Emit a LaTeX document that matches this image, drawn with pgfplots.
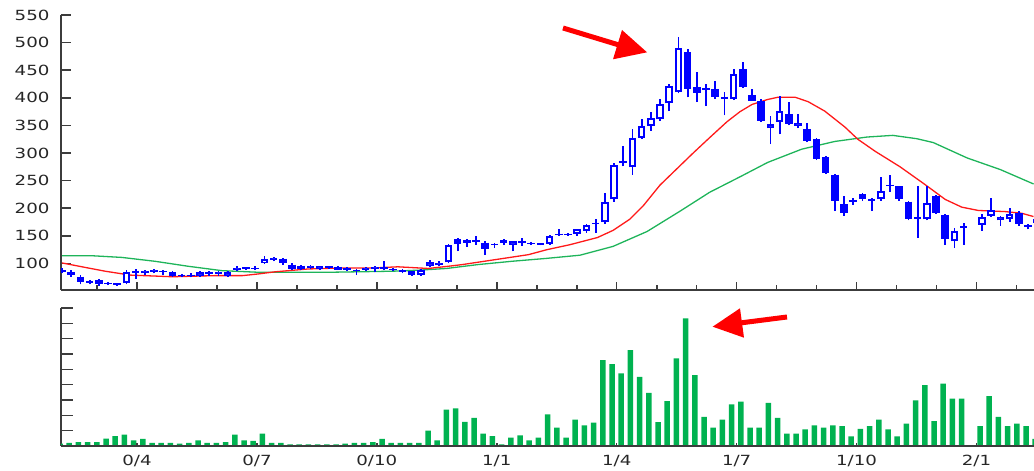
\documentclass[border=0pt]{standalone}
\usepackage{pgfplots}
\usepackage{pgfplotstable}
\pgfplotsset{compat=1.18}
\usepackage{fontspec}
\setmainfont{DejaVu Sans}[FakeStretch=1.3]
\definecolor{cblue}{RGB}{0,0,255}
\definecolor{mared}{RGB}{255,25,25}
\definecolor{magreen}{RGB}{30,180,90}
\definecolor{volgreen}{RGB}{0,178,80}
\definecolor{axgray}{RGB}{60,60,60}

\pgfplotstableread{
i o h l c
7 64 88 62 84
9 82 88 80 86
10 85 90 82 88
15 78 86 76 84
17 81 86 78 84
18 78 86 76 84
19 89 95 86 92
22 101 113 99 109
23 106 112 104 110
27 92 97 90 95
28 90 96 88 95
33 89 94 87 92
34 90 95 84 93
39 79 90 77 89
40 95 106 93 102
41 97 105 95 101
42 102 135 100 134
49 134 141 122 140
53 136 151 134 150
56 153 163 150 162
57 159 171 156 169
59 175 228 172 211
60 216 282 212 278
62 274 343 261 328
63 328 361 326 349
64 349 374 340 364
65 361 398 358 388
66 390 425 376 421
67 410 511 408 491
73 398 452 396 443
77 345 367 316 352
78 356 404 334 376
80 349 370 345 354
89 216 257 214 231
94 180 240 178 210
97 140 165 128 159
100 170 189 159 184
101 186 219 184 197
102 178 186 168 185
103 180 201 176 190
106 174 182 172 180
}\updata

\pgfplotstableread{
i o h l c
0 88 92 82 85
1 85 88 76 79
2 76 80 62 66
3 68 70 62 65
4 70 72 60 63
5 64 66 61 62
6 64 65 60 61
8 87 90 72 82
11 86 88 80 84
12 84 86 76 78
13 80 81 76 77
14 80 82 75 77
16 84 86 78 81
20 93 94 88 90
21 92 95 88 90
24 109 110 97 100
25 98 100 88 90
26 96 98 88 90
29 95 96 90 92
30 94 96 88 89
31 92 93 87 89
32 89 90 80 86
35 93 104 88 90
36 90 92 86 88
37 88 90 82 84
38 86 87 78 80
43 144 146 122 135
44 142 144 130 137
45 142 150 134 139
46 138 140 116 126
47 136 137 128 133
48 142 144 134 138
50 141 146 132 138
51 137 139 134 135
52 137 138 133 134
54 154 162 150 151
55 154 155 150 151
58 174 180 156 171
61 286 313 276 282
68 483 488 401 416
69 419 446 392 408
70 418 425 385 414
71 416 431 398 401
72 402 410 368 398
74 452 465 418 419
75 405 416 394 395
76 394 397 356 358
79 370 392 350 352
81 343 355 320 322
82 325 327 287 289
83 292 294 262 264
84 261 262 195 213
85 207 222 186 191
86 215 218 206 212
87 225 228 214 217
88 217 218 195 213
90 243 261 230 240
91 240 241 214 216
92 212 213 178 180
93 185 240 147 181
95 223 224 190 192
96 188 189 134 144
98 168 174 134 164
104 191 195 168 172
105 169 172 162 166
}\downdata

\pgfplotstableread{
i v
0 101
2.8 92
4.7 86
7.4 79
12 76
16.6 78
19.6 78
21.3 81
23.2 85
26.7 90
30.4 92
34 92
36.5 94
39.8 91
42 95
43.5 98
47.1 107
50.7 116
52.7 125
55.2 134
58.2 147
59.9 160
61.7 180
63.2 205
65 242
66.8 271
68.6 300
70.4 328
72.3 357
73.7 375
75 388
76.7 397
77.8 401
79.7 401
81.1 393
82.9 376
85.1 347
86.5 325
88.4 303
91.1 275
93.8 243
96 216
97.8 202
99.6 196
102.5 194
104.3 191
105.6 185
}\redma

\pgfplotstableread{
i v
0 114
3.3 114
6.5 111
10.1 104
13.7 95
17.4 87
21.5 84
28.6 84
35.9 86
38.9 88
41.8 91
45.2 98
48.9 104
52.5 109
56.3 115
59.9 131
63.6 158
67.2 195
70.4 229
73.7 257
76.7 283
80.4 307
84 321
87.5 329
90.3 332
92.9 326
94.7 319
98.4 291
102 270
105.6 244
}\greenma

\pgfplotstableread{
i v
0 0.15
1 0.2
2 0.26
3 0.26
4 0.26
5 0.48
6 0.65
7 0.74
8 0.37
9 0.46
10 0.2
11 0.2
12 0.2
13 0.15
14 0.2
15 0.37
16 0.2
17 0.2
18 0.26
19 0.74
20 0.37
21 0.33
22 0.81
23 0.2
24 0.2
25 0.11
26 0.11
27 0.11
28 0.11
29 0.11
30 0.11
31 0.15
32 0.2
33 0.2
34 0.26
35 0.46
36 0.2
37 0.2
38 0.2
39 0.2
40 1.0
41 0.37
42 2.37
43 2.46
44 1.57
45 1.83
46 0.81
47 0.65
48 0.11
49 0.54
50 0.7
51 0.37
52 0.54
53 2.07
54 1.2
55 0.54
56 1.72
57 1.35
58 1.53
59 5.6
60 5.34
61 4.73
62 6.25
63 4.51
64 3.46
65 1.55
66 2.92
67 5.71
68 8.32
69 4.62
70 1.9
71 1.2
72 1.72
73 2.72
74 2.9
75 1.2
76 1.2
77 2.81
78 1.83
79 0.81
80 0.81
81 1.09
82 1.35
83 1.2
84 1.35
85 1.29
86 0.63
87 1.11
88 1.29
89 1.72
90 1.09
91 0.63
92 1.46
93 2.98
94 3.97
95 1.63
96 4.07
97 3.09
98 3.09
100 1.29
101 3.25
102 1.9
103 1.29
104 1.46
105 1.29
106 0.46
}\voldata

\pgfplotsset{
  base/.style={
    scale only axis, anchor=south west,
    xmin=-0.11, xmax=105.65,
    axis x line*=bottom, axis y line*=left,
    tick align=inside,
    axis line style={line width=1.6pt, axgray},
    tick style={line width=1.6pt, axgray},
    ticklabel style={font=\fontsize{14}{16}\selectfont, text=black!85},
    /pgf/number format/assume math mode=true,
    scaled y ticks=false,
  },
  monthticks/.style={
    xtick={8.15,21.19,34.22,47.26,60.29,73.33,86.36,99.4},
    minor xtick={3.8,12.5,16.84,25.53,29.88,38.57,42.91,51.6,55.95,64.64,68.98,77.67,82.02,90.71,95.05,103.74},
  },
}

\begin{document}
\begin{tikzpicture}
\useasboundingbox (0pt,0pt) rectangle (1034pt,471pt);

% ---------- price axis ----------
\begin{axis}[base, at={(61pt,181pt)}, width=973pt, height=275pt,
  ymin=52, ymax=550, ytick={100,150,...,550}, xtick=\empty,
  major tick length=10pt, yticklabel style={xshift=-8pt}]
  \addplot[magreen, line width=1.3pt, no marks] table[x=i,y=v] \greenma;
  \addplot[mared, line width=1.3pt, no marks] table[x=i,y=v] \redma;
  % wicks
  \addplot[cblue, line width=1.8pt, no marks, quiver={u=0, v={\thisrow{h}-\thisrow{l}}}] table[x=i,y=l] \updata;
  \addplot[cblue, line width=1.8pt, no marks, quiver={u=0, v={\thisrow{h}-\thisrow{l}}}] table[x=i,y=l] \downdata;
  % bodies
  \addplot[cblue, line width=7.5pt, no marks, quiver={u=0, v={\thisrow{c}-\thisrow{o}}}] table[x=i,y=o] \downdata;
  \addplot[cblue, line width=7.5pt, no marks, quiver={u=0, v={\thisrow{c}-\thisrow{o}}}] table[x=i,y=o] \updata;
  \addplot[white, line width=3.6pt, no marks, quiver={u=0, v={max(\thisrow{c}-\thisrow{o}-7.2,0.01)}}] table[x=i,y expr=\thisrow{o}+3.6] \updata;
\end{axis}
\begin{axis}[base, at={(61pt,181pt)}, width=973pt, height=275pt,
  ymin=52, ymax=550, hide y axis, monthticks, xticklabels={},
  major tick length=8pt, minor tick length=5pt]
  \addplot[draw=none, no marks] coordinates {(0,100)};
\end{axis}

% ---------- volume axis ----------
\begin{axis}[base, at={(61pt,25pt)}, width=973pt, height=138pt,
  ymin=0, ymax=9, ytick={0,1,...,9}, yticklabels={}, xtick=\empty,
  major tick length=12pt]
  \addplot[ybar, bar width=5.5pt, bar shift=-2pt, fill=volgreen, draw=none] table[x=i,y=v] \voldata;
\end{axis}
\begin{axis}[base, at={(61pt,25pt)}, width=973pt, height=138pt,
  ymin=0, ymax=9, hide y axis,
  xtick={8.15,21.19,34.22,47.26,60.29,73.33,86.36,99.4},
  xticklabels={0/4,0/7,0/10,1/1,1/4,1/7,1/10,2/1},
  major tick length=3pt, xticklabel style={yshift=-6pt}]
  \addplot[draw=none, no marks] coordinates {(0,1)};
\end{axis}

% ---------- annotation arrows ----------
\draw[red, line width=5pt] (563pt,443pt) -- (619pt,426pt);
\fill[red] (622pt,441pt) -- (647pt,418.7pt) -- (613pt,411.7pt) -- cycle;
\draw[red, line width=5pt] (787pt,154pt) -- (740pt,148pt);
\fill[red] (740pt,162.7pt) -- (712.7pt,144.3pt) -- (744pt,133.3pt) -- cycle;
\end{tikzpicture}
\end{document}
